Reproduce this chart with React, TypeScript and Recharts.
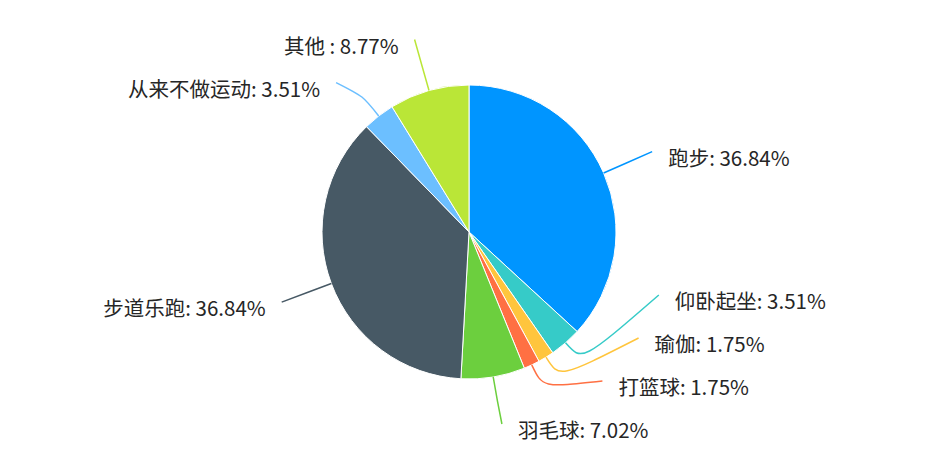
import { PieChart, Pie, Cell } from "recharts"

const names = ["跑步", "仰卧起坐", "瑜伽", "打篮球", "羽毛球", "步道乐跑", "从来不做运动", "其他 "]
const counts = [21, 2, 1, 1, 4, 21, 2, 5]
const colors = ["#0095ff", "#36cbc8", "#ffc53d", "#ff7043", "#6ccf3e", "#475965", "#6cbfff", "#bae637"]

const data = names.map((name, i) => ({ name, value: counts[i] }))
const total = counts.reduce((s, v) => s + v, 0)

const CX = 469
const CY = 232
const RADIUS = 147
const LINE_R = 200
const BEND = 25
const GAP = 43
const MIN_Y = 37
const MAX_Y = 424
const TEXT_GAP = 16

type Slot = { x: number; y: number; right: boolean }

// rough label layout: push overlapping labels apart on each side
function layoutLabels(): Slot[] {
  let start = 90
  const items = counts.map((v, i) => {
    const sweep = (v / total) * 360
    const mid = start - sweep / 2
    start -= sweep
    const rad = (mid * Math.PI) / 180
    return {
      i,
      right: Math.cos(rad) >= 0,
      nx: CX + LINE_R * Math.cos(rad),
      y: CY - LINE_R * Math.sin(rad),
    }
  })
  for (const right of [true, false]) {
    const side = items.filter((it) => it.right === right).sort((a, b) => a.y - b.y)
    for (let k = 0; k < side.length; k++) {
      const lo = k === 0 ? MIN_Y : side[k - 1].y + GAP
      side[k].y = Math.max(side[k].y, lo)
    }
    for (let k = side.length - 1; k >= 0; k--) {
      const hi = k === side.length - 1 ? MAX_Y : side[k + 1].y - GAP
      side[k].y = Math.min(side[k].y, hi)
    }
  }
  return items.map((it) => {
    const dy = Math.abs(it.y - CY)
    let x = it.nx
    if (dy < RADIUS + BEND) {
      const dx = Math.sqrt(LINE_R * LINE_R - dy * dy)
      x = it.right ? CX + dx : CX - dx
    }
    return { x, y: it.y, right: it.right }
  })
}

const slots = layoutLabels()

const renderLabel = (props: any) => {
  const { cx, cy, midAngle, outerRadius, index } = props
  const rad = (midAngle * Math.PI) / 180
  const x0 = cx + outerRadius * Math.cos(rad)
  const y0 = cy - outerRadius * Math.sin(rad)
  const x1 = cx + (outerRadius + BEND) * Math.cos(rad)
  const y1 = cy - (outerRadius + BEND) * Math.sin(rad)
  const slot = slots[index]
  const pct = ((counts[index] / total) * 100).toFixed(2)
  return (
    <g key={`label-${index}`}>
      <path
        d={`M${x0},${y0} C${x1},${y1} ${x1},${y1} ${slot.x},${slot.y}`}
        stroke={colors[index]}
        strokeWidth={1.5}
        fill="none"
      />
      <text
        x={slot.right ? slot.x + TEXT_GAP : slot.x - TEXT_GAP}
        y={slot.y + 5}
        textAnchor={slot.right ? "start" : "end"}
        dominantBaseline="central"
        fill="#262626"
        fontSize={20.5}
        fontFamily='"Noto Sans CJK SC", "Noto Sans", sans-serif'
      >
        {`${names[index]}: ${pct}%`}
      </text>
    </g>
  )
}

export default function App() {
  return (
    <div style={{ width: 938, height: 469, background: "#ffffff" }}>
      <style>{`body { margin: 0; }`}</style>
      <PieChart width={938} height={469} margin={{ top: 0, right: 0, bottom: 0, left: 0 }}>
        <Pie
          data={data}
          dataKey="value"
          nameKey="name"
          cx={CX}
          cy={CY}
          outerRadius={RADIUS}
          startAngle={90}
          endAngle={-270}
          stroke="#ffffff"
          strokeWidth={1}
          label={renderLabel}
          labelLine={false}
          isAnimationActive={false}
        >
          {data.map((d, i) => (
            <Cell key={d.name} fill={colors[i]} />
          ))}
        </Pie>
      </PieChart>
    </div>
  )
}
